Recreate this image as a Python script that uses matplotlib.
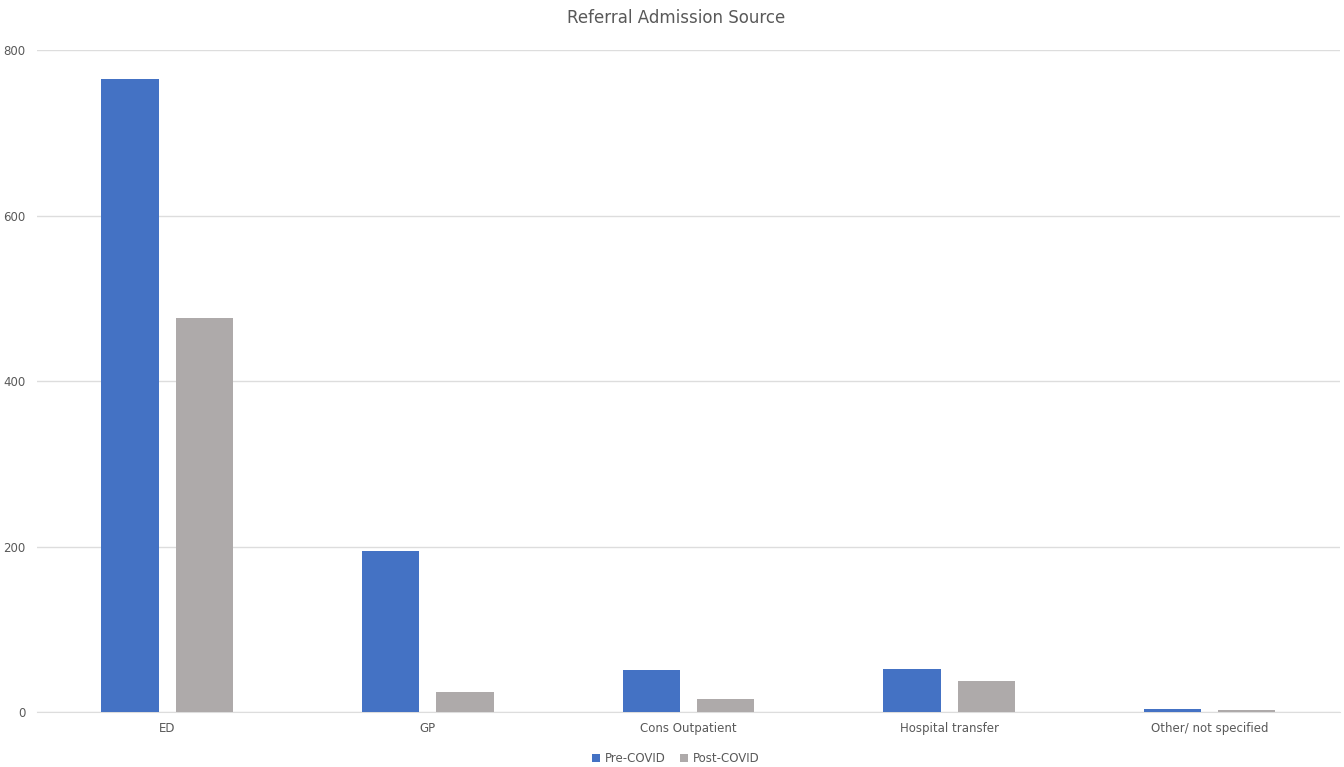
import numpy as np
import matplotlib
matplotlib.use("Agg")
import matplotlib.pyplot as plt

categories = ["ED", "GP", "Cons Outpatient", "Hospital transfer", "Other/ not specified"]
pre_covid = [765, 195, 51, 52, 4]
post_covid = [476, 24, 16, 38, 3]
y_ticks = [0, 200, 400, 600, 800]

BLUE = "#4472C4"
GREY = "#AEAAAA"
TXT = "#595959"

fig = plt.figure(figsize=(13.44, 7.67), dpi=100)
ax = fig.add_axes([0.0275, 0.0717, 0.9695, 0.8631])

x = np.arange(len(categories))
w = 0.22
gap = 0.065
ax.bar(x - (w + gap) / 2, pre_covid, w, color=BLUE, label="Pre-COVID", zorder=3)
ax.bar(x + (w + gap) / 2, post_covid, w, color=GREY, label="Post-COVID", zorder=3)

ax.set_xlim(-0.5, len(categories) - 0.5)
ax.set_ylim(0, 800)
ax.set_yticks(y_ticks)
ax.set_xticks(x)
ax.set_xticklabels(categories)
ax.tick_params(axis="both", length=0, labelsize=8.5, colors=TXT)
ax.tick_params(axis="x", pad=7)
ax.tick_params(axis="y", pad=8)
ax.grid(axis="y", color="#DDDDDD", linewidth=1, zorder=0)
for s in ["top", "right", "left"]:
    ax.spines[s].set_visible(False)
ax.spines["bottom"].set_color("#DDDDDD")

fig.text(0.503, 0.976, "Referral Admission Source", ha="center", va="center",
         fontsize=12, color=TXT)
fig.legend(loc="center", bbox_to_anchor=(0.503, 0.011), ncol=2, frameon=False,
           fontsize=8.5, labelcolor=TXT, handlelength=0.7, handleheight=0.7,
           handletextpad=0.4, columnspacing=1.2)

fig.savefig("out.png", dpi=100)
